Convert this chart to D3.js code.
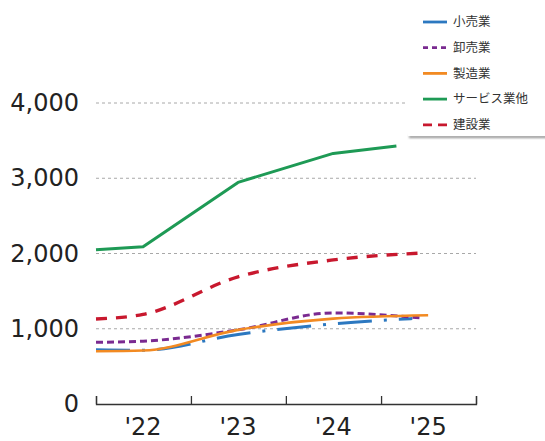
<!DOCTYPE html>
<html>
<head>
<meta charset="utf-8">
<script src="https://cdn.jsdelivr.net/npm/d3@7"></script>
<style>
  html, body { margin: 0; padding: 0; background: #fff; }
  svg { display: block; }
</style>
</head>
<body>
<svg id="chart" width="545" height="441"></svg>
<script>
// Series (monthly observation dates, values in 件)
const retailDates    = ["2022-01", "2022-07", "2023-07", "2024-07", "2025-05"];
const retailValues   = [720, 715, 925, 1065, 1135];
const wholesaleDates = ["2022-01", "2022-07", "2023-07", "2024-07", "2025-06"];
const wholesaleValues= [820, 835, 985, 1210, 1145];
const makerDates     = ["2022-01", "2022-07", "2023-07", "2024-07", "2025-07"];
const makerValues    = [700, 710, 985, 1135, 1180];
const serviceDates   = ["2022-01", "2022-07", "2023-07", "2024-07", "2025-03"];
const serviceValues  = [2050, 2090, 2945, 3330, 3430];
const buildDates     = ["2022-01", "2022-07", "2023-07", "2024-07", "2025-06"];
const buildValues    = [1130, 1190, 1690, 1915, 2005];

const seriesNames = ["小売業", "卸売業", "製造業", "サービス業他", "建設業"];
const yearLabels  = ["'22", "'23", "'24", "'25"];
const yTicks      = [0, 1000, 2000, 3000, 4000];

const parse = d3.timeParse("%Y-%m");
const zip = (ds, vs) => ds.map((d, i) => ({ date: parse(d), value: vs[i] }));

const series = [
  { name: seriesNames[0], data: zip(retailDates, retailValues),     color: "#2c78c0", width: 3,   dash: "34,12,3,12", legendDash: null,  curve: d3.curveMonotoneX },
  { name: seriesNames[1], data: zip(wholesaleDates, wholesaleValues), color: "#7a2a90", width: 3, dash: "7,4",        legendDash: "5,4", curve: d3.curveMonotoneX },
  { name: seriesNames[2], data: zip(makerDates, makerValues),       color: "#f28a22", width: 2.6, dash: null,         legendDash: null,  curve: d3.curveMonotoneX },
  { name: seriesNames[3], data: zip(serviceDates, serviceValues),   color: "#1e9a55", width: 3,   dash: null,         legendDash: null,  curve: d3.curveLinear },
  { name: seriesNames[4], data: zip(buildDates, buildValues),       color: "#c8182e", width: 3.4, dash: "11,9",       legendDash: "9,6", curve: d3.curveMonotoneX }
];

const svg = d3.select("#chart");
const plotLeft = 96, plotRight = 476, plotTop = 103, plotBottom = 404;

const x = d3.scaleTime()
  .domain([new Date(2022, 0, 1), new Date(2026, 0, 1)])
  .range([plotLeft, plotRight]);
const y = d3.scaleLinear().domain([0, 4000]).range([plotBottom, plotTop]);

// Horizontal gridlines
svg.append("g")
  .selectAll("line")
  .data(yTicks.filter(t => t > 0))
  .join("line")
  .attr("x1", plotLeft).attr("x2", plotRight)
  .attr("y1", d => y(d)).attr("y2", d => y(d))
  .attr("stroke", "#a8a8a8")
  .attr("stroke-width", 1)
  .attr("stroke-dasharray", "3,3");

// Y axis labels (no axis line)
const yAxis = d3.axisLeft(y).tickValues(yTicks).tickSize(0).tickPadding(0)
  .tickFormat(d3.format(","));
const yg = svg.append("g").attr("transform", `translate(${plotLeft - 17},0)`).call(yAxis);
yg.select(".domain").remove();
yg.selectAll("text")
  .attr("font-family", "'DejaVu Sans', sans-serif")
  .attr("font-size", 24)
  .attr("fill", "#222");

// X axis: year boundaries with inward ticks, labels centred in each year
const yearStarts = d3.range(2022, 2027).map(yr => new Date(yr, 0, 1));
const xAxis = d3.axisBottom(x).tickValues(yearStarts).tickSize(-8).tickFormat("");
const xg = svg.append("g").attr("transform", `translate(0,${plotBottom})`).call(xAxis);
xg.select(".domain").attr("stroke", "#333").attr("stroke-width", 1.3);
xg.selectAll(".tick line").attr("stroke", "#333").attr("stroke-width", 1.3);

svg.append("g")
  .selectAll("text")
  .data(yearLabels)
  .join("text")
  .attr("x", (d, i) => x(new Date(2022 + i, 6, 1)))
  .attr("y", 435)
  .attr("text-anchor", "middle")
  .attr("font-family", "'DejaVu Sans', sans-serif")
  .attr("font-size", 24)
  .attr("fill", "#222")
  .text(d => d);

// Lines
const line = d3.line().x(d => x(d.date)).y(d => y(d.value));
const lineOrder = [0, 1, 2, 4, 3];
svg.append("g")
  .selectAll("path")
  .data(lineOrder.map(i => series[i]))
  .join("path")
  .attr("d", s => line.curve(s.curve)(s.data))
  .attr("fill", "none")
  .attr("stroke", s => s.color)
  .attr("stroke-width", s => s.width)
  .attr("stroke-dasharray", s => s.dash)
  .attr("stroke-linejoin", "round");

// Legend box: white panel with a soft shadow along its lower edge
const defs = svg.append("defs");
defs.append("filter").attr("id", "soft")
  .attr("filterUnits", "userSpaceOnUse")
  .attr("x", 400).attr("y", 128).attr("width", 160).attr("height", 20)
  .append("feGaussianBlur").attr("stdDeviation", 0.9);

const lg = svg.append("g");
lg.append("rect")
  .attr("x", 409).attr("y", 135.5).attr("width", 140).attr("height", 2.5)
  .attr("fill", "#8f8f8f")
  .attr("filter", "url(#soft)");
lg.append("rect")
  .attr("x", 408).attr("y", -4).attr("width", 150).attr("height", 140)
  .attr("fill", "#fff");

const rowY = i => 22 + i * 25.7;
lg.selectAll("line.sw")
  .data(series)
  .join("line")
  .attr("class", "sw")
  .attr("x1", 423).attr("x2", 447)
  .attr("y1", (d, i) => rowY(i)).attr("y2", (d, i) => rowY(i))
  .attr("stroke", d => d.color)
  .attr("stroke-width", 2.8)
  .attr("stroke-dasharray", d => d.legendDash);
lg.selectAll("text")
  .data(series)
  .join("text")
  .attr("x", 453)
  .attr("y", (d, i) => rowY(i))
  .attr("dy", "0.35em")
  .attr("font-family", "'Noto Sans CJK JP', sans-serif")
  .attr("font-size", 12.5)
  .attr("fill", "#333")
  .text(d => d.name);
</script>
</body>
</html>
